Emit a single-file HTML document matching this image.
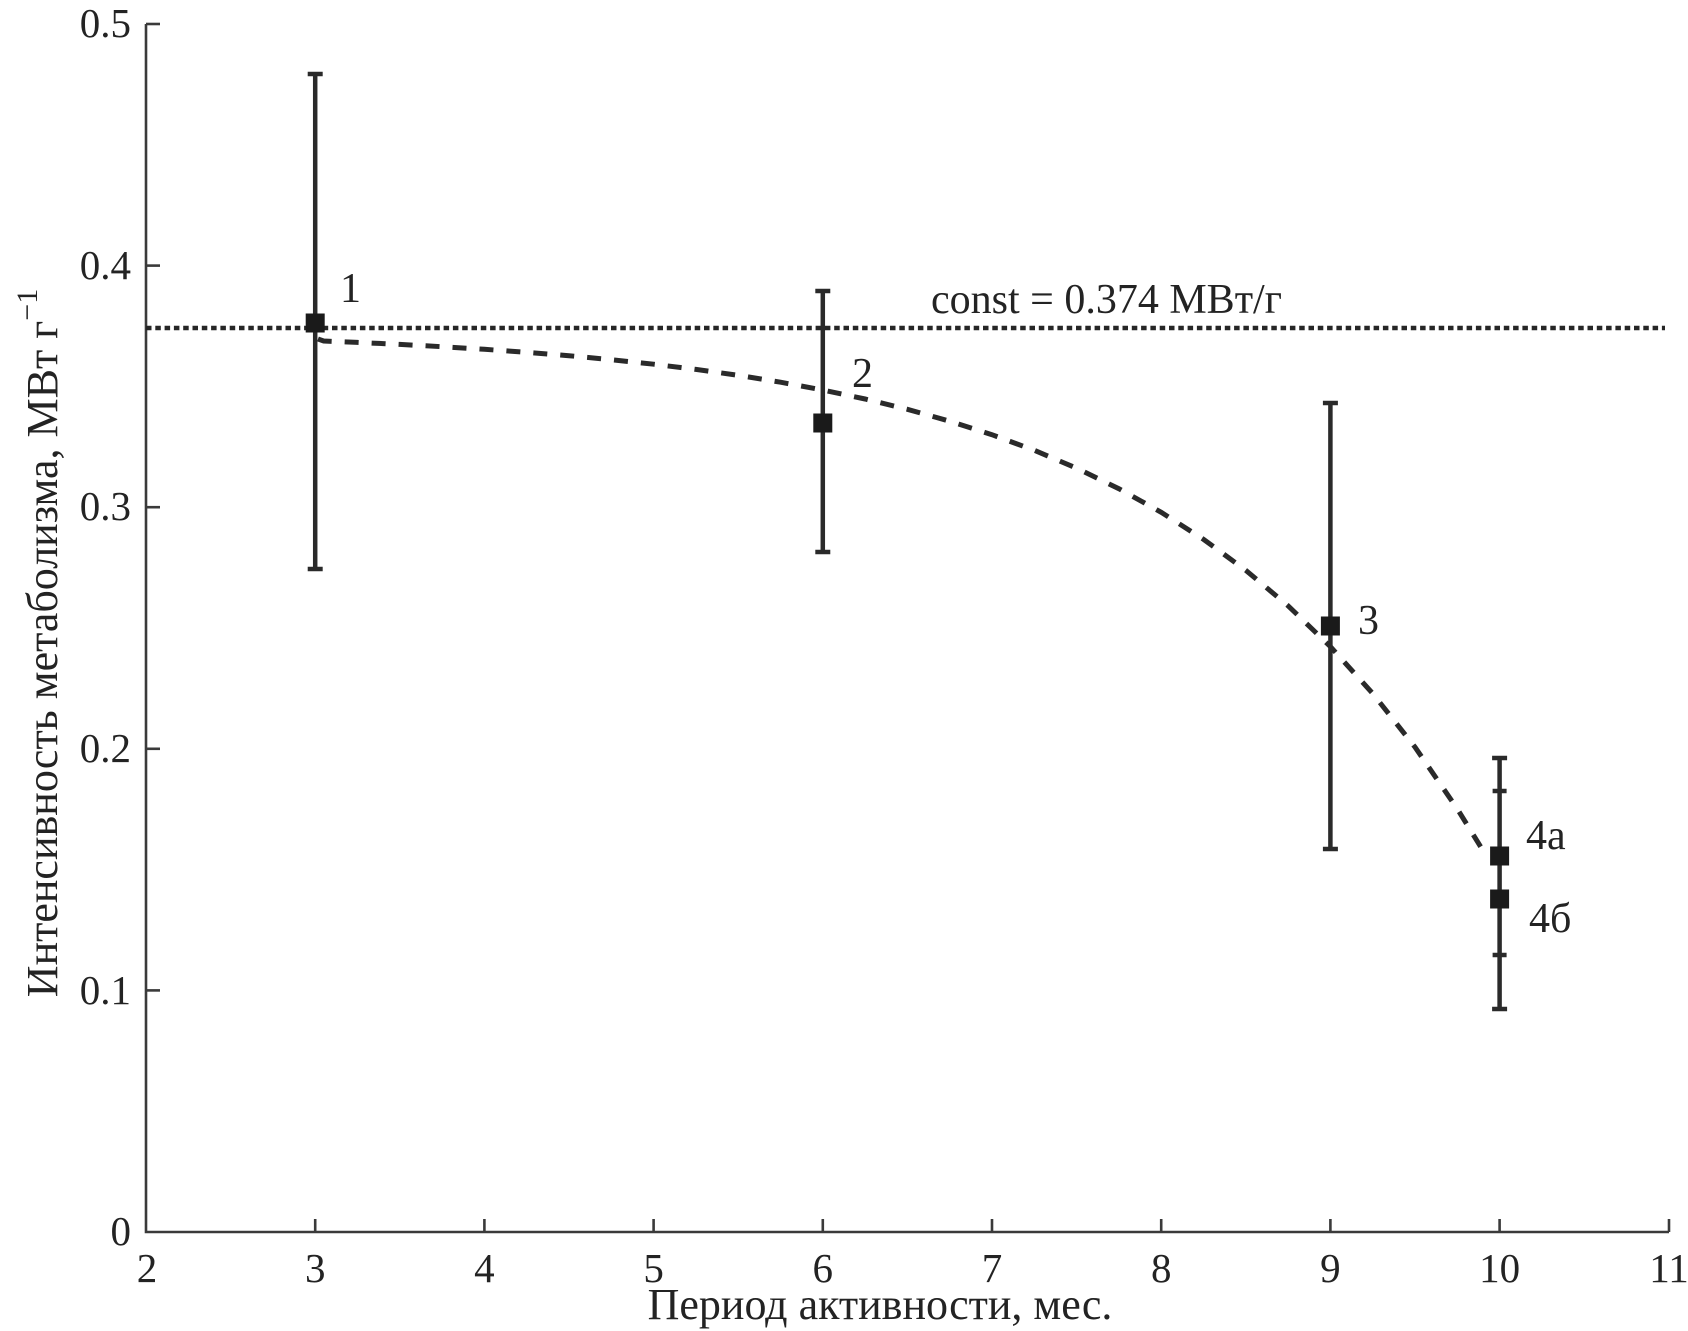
<!DOCTYPE html>
<html>
<head>
<meta charset="utf-8">
<style>
  html, body { margin: 0; padding: 0; background: #ffffff; }
  svg { display: block; }
  text { font-family: "Liberation Serif", "DejaVu Serif", serif; fill: #232323; }
</style>
</head>
<body>
<svg width="1688" height="1331" viewBox="0 0 1688 1331" xmlns="http://www.w3.org/2000/svg">
  <rect width="1688" height="1331" fill="#ffffff"/>

  <!-- Axes -->
  <g stroke="#3a3a3a" stroke-width="2.6" fill="none">
    <polyline points="146,24 146,1232 1669,1232"/>
    <line x1="146" y1="24" x2="160" y2="24"/>
    <line x1="146" y1="265.6" x2="160" y2="265.6"/>
    <line x1="146" y1="507.2" x2="160" y2="507.2"/>
    <line x1="146" y1="748.8" x2="160" y2="748.8"/>
    <line x1="146" y1="990.4" x2="160" y2="990.4"/>
    <line x1="315.2" y1="1232" x2="315.2" y2="1219"/>
    <line x1="484.4" y1="1232" x2="484.4" y2="1219"/>
    <line x1="653.6" y1="1232" x2="653.6" y2="1219"/>
    <line x1="822.8" y1="1232" x2="822.8" y2="1219"/>
    <line x1="992" y1="1232" x2="992" y2="1219"/>
    <line x1="1161.2" y1="1232" x2="1161.2" y2="1219"/>
    <line x1="1330.4" y1="1232" x2="1330.4" y2="1219"/>
    <line x1="1499.6" y1="1232" x2="1499.6" y2="1219"/>
    <line x1="1669" y1="1232" x2="1669" y2="1219"/>
  </g>

  <!-- Y tick labels -->
  <g font-size="41" text-anchor="end">
    <text x="131" y="37">0.5</text>
    <text x="131" y="279">0.4</text>
    <text x="131" y="520">0.3</text>
    <text x="131" y="762">0.2</text>
    <text x="131" y="1004">0.1</text>
    <text x="131" y="1245">0</text>
  </g>

  <!-- X tick labels -->
  <g font-size="41" text-anchor="middle">
    <text x="147" y="1282">2</text>
    <text x="315.2" y="1282">3</text>
    <text x="484.4" y="1282">4</text>
    <text x="653.6" y="1282">5</text>
    <text x="822.8" y="1282">6</text>
    <text x="992" y="1282">7</text>
    <text x="1161.2" y="1282">8</text>
    <text x="1330.4" y="1282">9</text>
    <text x="1499.6" y="1282">10</text>
    <text x="1669" y="1282">11</text>
  </g>

  <!-- Axis titles -->
  <text x="880" y="1319" font-size="44" text-anchor="middle">Период активности, мес.</text>
  <text transform="translate(57,643) rotate(-90)" font-size="44" text-anchor="middle">Интенсивность метаболизма, МВт г<tspan font-size="30" dy="-20">−1</tspan></text>

  <!-- Constant dotted line -->
  <line x1="146" y1="328" x2="1665" y2="328" stroke="#262626" stroke-width="4.6" stroke-dasharray="5.5 3.8"/>
  <text x="931" y="313" font-size="42">const = 0.374 МВт/г</text>

  <!-- Dashed fitted curve -->
  <polyline fill="none" stroke="#2a2a2a" stroke-width="5" stroke-dasharray="14 13"
    points="318,339 323.7,341 357.5,342.4 399.8,344.4 442.1,346.7 484.4,349.3 526.7,352.3 569,355.7 611.3,359.7 653.6,364.2 695.9,369.4 738.2,375.3 780.5,382.2 822.8,390 865.1,399 907.4,409.3 949.7,421.2 992,434.7 1034.3,450.3 1076.6,468.2 1118.9,488.7 1161.2,512.3 1203.5,539.3 1245.8,570.3 1288.1,605.8 1330.4,646.6 1372.7,693.5 1415,747.1 1457.3,808.9 1482.7,850.1"/>

  <!-- Error bars -->
  <g stroke="#2a2a2a" stroke-width="4.5" fill="none">
    <line x1="315.2" y1="74" x2="315.2" y2="569"/>
    <line x1="307.7" y1="74" x2="322.7" y2="74"/>
    <line x1="307.7" y1="569" x2="322.7" y2="569"/>
    <line x1="822.8" y1="291" x2="822.8" y2="552"/>
    <line x1="815.3" y1="291" x2="830.3" y2="291"/>
    <line x1="815.3" y1="552" x2="830.3" y2="552"/>
    <line x1="1330.4" y1="403" x2="1330.4" y2="849"/>
    <line x1="1322.9" y1="403" x2="1337.9" y2="403"/>
    <line x1="1322.9" y1="849" x2="1337.9" y2="849"/>
    <line x1="1499.6" y1="758" x2="1499.6" y2="1009"/>
    <line x1="1492.1" y1="758" x2="1507.1" y2="758"/>
    <line x1="1492.6" y1="791" x2="1506.6" y2="791"/>
    <line x1="1492.6" y1="955" x2="1506.6" y2="955"/>
    <line x1="1492.1" y1="1009" x2="1507.1" y2="1009"/>
  </g>

  <!-- Markers -->
  <g fill="#1a1a1a">
    <rect x="305.7" y="313.5" width="19" height="19"/>
    <rect x="813.3" y="413.5" width="19" height="19"/>
    <rect x="1320.9" y="616.5" width="19" height="19"/>
    <rect x="1490.1" y="846.5" width="19" height="19"/>
    <rect x="1490.1" y="889.5" width="19" height="19"/>
  </g>

  <!-- Point labels -->
  <g font-size="42">
    <text x="340" y="302">1</text>
    <text x="852" y="387">2</text>
    <text x="1358" y="634">3</text>
    <text x="1526" y="849">4а</text>
    <text x="1529" y="932">4б</text>
  </g>
</svg>
</body>
</html>
